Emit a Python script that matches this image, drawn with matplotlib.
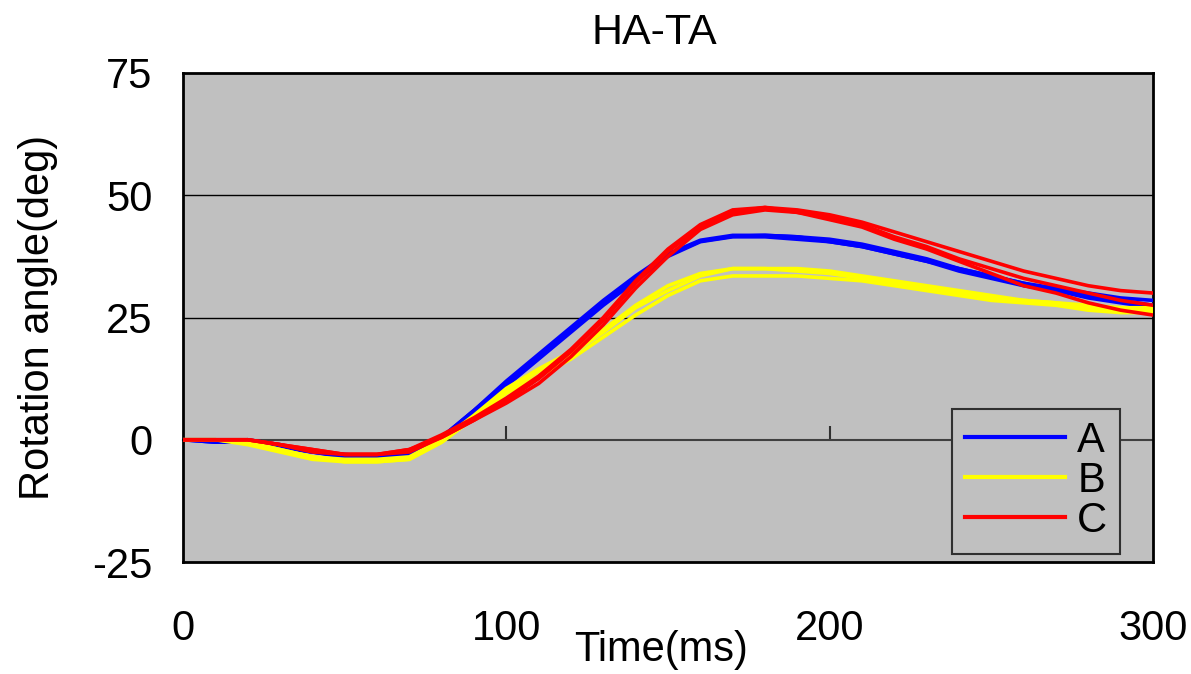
import matplotlib
matplotlib.use("Agg")
import matplotlib.pyplot as plt

plt.rcParams['font.family'] = ['Liberation Sans', 'DejaVu Sans']

time_ms = [0, 10, 20, 30, 40, 50, 60, 70, 80, 90, 100, 110, 120, 130, 140, 150,
           160, 170, 180, 190, 200, 210, 220, 230, 240, 250, 260, 270, 280, 290, 300]

a_trials = [
    [0, -0.5, -0.5, -1.5, -2.5, -3.5, -3.5, -3, 0.5, 6, 11.5, 17, 22.5, 28, 33, 37.8,
     40.6, 41.6, 41.8, 41.5, 41, 40, 38.5, 37, 35, 33.5, 32, 31, 30, 29, 28.5],
    [0, 0, -0.5, -1.5, -2.5, -3.5, -3.5, -2.5, 0.5, 6, 12, 17.5, 23, 28.5, 33.5, 38,
     40.8, 41.8, 41.8, 41.5, 40.5, 39.5, 38, 36.5, 35, 33.5, 32, 30.5, 29.5, 28.5, 27.5],
    [0, -0.5, 0, -1, -2.5, -3, -3.5, -3, 0, 5.5, 11, 16.5, 22, 27.5, 32.5, 37.5,
     40.5, 41.5, 41.5, 41, 40.5, 39.5, 38, 36.5, 34.5, 33, 31.5, 30.5, 29, 28, 27],
]
b_trials = [
    [0, 0, -0.5, -2, -3.5, -4, -4, -3.5, 0, 5, 10.5, 14.5, 18, 22.5, 27.5, 31.5,
     34, 35, 35, 35, 34.5, 33.5, 32.5, 31.5, 30.5, 29.5, 28.5, 28, 27.5, 27, 27],
    [0, 0, -0.5, -2, -3.5, -4.5, -4.5, -4, -0.5, 4.5, 10, 14, 17.5, 22, 27, 30.5,
     33.5, 35, 35, 34.5, 34, 33, 32, 31, 30, 29, 28.5, 28, 27, 26.5, 26.5],
    [0, 0, -1, -2.5, -4, -4.5, -4.5, -4, -0.5, 4.5, 9.5, 13, 16.5, 21, 25.5, 29.5,
     32.5, 33.5, 33.5, 33.5, 33, 32.5, 31.5, 30.5, 29.5, 28.5, 28, 27.5, 26.5, 26, 26],
]
c_trials = [
    [0, 0, 0, -1, -2, -3, -3, -2, 1, 4.5, 8.5, 13, 18.5, 25, 32.5, 39,
     44, 47, 47.5, 47, 46, 44.5, 42.5, 40.5, 38.5, 36.5, 34.5, 33, 31.5, 30.5, 30],
    [0, 0, 0, -1, -2, -3, -3, -2, 0.5, 4, 8, 12.5, 18, 24.5, 32, 38.5,
     43.5, 46.5, 47.5, 46.5, 45.5, 44, 41.5, 39.5, 37, 35, 33, 31.5, 30, 28.5, 27.5],
    [0, 0, 0, -1, -2.5, -3, -3, -2.5, 0.5, 4, 7.5, 11.5, 17, 23.5, 31, 37.5,
     43, 46, 47, 46.5, 45, 43.5, 41, 39, 36.5, 34, 31.5, 30, 28, 26.5, 25.5],
]

series_names = ["A", "B", "C"]
series_colors = ["#0000FF", "#FFFF00", "#FF0000"]
y_ticks = [-25, 0, 25, 50, 75]
x_ticks = [0, 100, 200, 300]
title = "HA-TA"
x_label = "Time(ms)"
y_label = "Rotation angle(deg)"

W, H = 1191, 674
fig = plt.figure(figsize=(W / 100, H / 100), dpi=100)
fig.patch.set_facecolor("white")
ax = fig.add_axes([183 / W, 1 - 562 / H, (1153 - 183) / W, (562 - 73) / H])
ax.set_facecolor("#C0C0C0")
ax.set_xlim(0, 300)
ax.set_ylim(-25, 75)

for yv in [25, 50]:
    ax.axhline(yv, color="black", lw=1.0, zorder=1)

lines = []
for trials, name, col in zip([a_trials, b_trials, c_trials], series_names, series_colors):
    for i, tr in enumerate(trials):
        ln, = ax.plot(time_ms, tr, color=col, lw=2.6, zorder=3,
                      solid_joinstyle="miter", label=name if i == 0 else None)
    lines.append(ln)

for sp in ax.spines.values():
    sp.set_color("black")
    sp.set_linewidth(2.0)

fs = 30
ax.set_yticks(y_ticks)
ax.set_yticklabels([str(v) for v in y_ticks], fontsize=fs)
ax.tick_params(axis="y", length=0, pad=22)
ax.set_xticks(x_ticks)
ax.set_xticklabels([str(v) for v in x_ticks], fontsize=fs)
ax.tick_params(axis="x", length=0, pad=34)

# x axis line crossing at y = 0 with inward tick marks
sec = ax.secondary_xaxis(0.25)
sec.set_xticks(x_ticks[1:-1])
sec.tick_params(axis="x", direction="in", length=10, width=1.5, color="#303030",
                labelbottom=False, labeltop=False)
sec.spines["bottom"].set_color("#404040")
sec.spines["bottom"].set_linewidth(1.5)

ax.set_ylabel(y_label, fontsize=fs)
ax.yaxis.set_label_coords((38 - 183) / 970, 0.5)
ax.yaxis.label.set_va("center")
ax.set_xlabel(x_label, fontsize=fs)
ax.xaxis.set_label_coords((661 - 183) / 970, (562 - 650) / 489)
ax.xaxis.label.set_va("center")

fig.text(654 / W, 1 - 33 / H, title, fontsize=31, ha="center", va="center")

leg = ax.legend(handles=lines, labels=series_names, loc="center",
                bbox_to_anchor=(1036 / W, 1 - 481 / H), bbox_transform=fig.transFigure,
                fontsize=fs, frameon=True, fancybox=False, framealpha=1,
                facecolor="#C0C0C0", edgecolor="#303030", handlelength=2.4,
                handletextpad=0.3, labelspacing=0.0, borderpad=0.3, borderaxespad=0)
leg.get_frame().set_linewidth(1.5)
for h in leg.legend_handles:
    h.set_linewidth(3)
leg.set_zorder(5)

fig.savefig("out.png", dpi=100, facecolor="white")
